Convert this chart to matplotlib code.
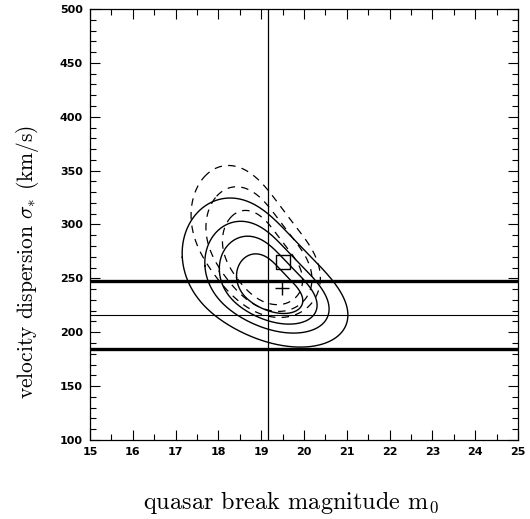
import numpy as np
import matplotlib
matplotlib.use("Agg")
import matplotlib.pyplot as plt
from matplotlib.ticker import MultipleLocator

# --- data ---
# outermost solid contour, points read clockwise from the picture
solid_outer_x = [17.22, 17.30, 17.49, 17.76, 18.23, 18.66, 19.13, 19.44, 20.00, 20.56,
                 21.00, 21.11, 21.00, 20.56, 20.14, 19.21, 18.66, 18.04, 17.57, 17.26]
solid_outer_y = [270.0, 291.8, 310.0, 321.0, 325.8, 321.0, 310.4, 302.6, 276.0, 248.0,
                 228.0, 214.0, 200.0, 192.0, 189.0, 190.0, 199.0, 211.4, 226.9, 245.4]
# nested solid contours: relative size w.r.t. the outer one and common peak
solid_levels = [1.0, 0.75, 0.59, 0.40]
solid_peak = (19.27, 238.2)

# outermost dashed contour, points read clockwise from the picture
dashed_outer_x = [17.64, 18.00, 18.43, 18.86, 19.20, 19.52, 19.81, 20.08, 20.31, 20.42,
                  20.20, 19.56, 18.80, 18.20, 17.76, 17.41, 17.40, 17.45]
dashed_outer_y = [343.0, 355.0, 355.0, 343.0, 330.0, 313.5, 298.0, 282.4, 265.5, 250.0,
                  228.0, 214.0, 222.0, 238.0, 262.0, 287.0, 305.7, 324.0]
dashed_levels = [1.0, 0.82, 0.62]
dashed_peak = (19.29, 245.0)

vline_x = [19.15]
thick_hlines = [248.0, 184.5]
thin_hlines = [216.0]
square_pt = (19.50, 265.0)
plus_pt = (19.48, 241.0)

xlim = (15, 25)
ylim = (100, 500)

plt.rcParams['mathtext.fontset'] = 'cm'
plt.rcParams['axes.unicode_minus'] = False

fig = plt.figure(figsize=(5.30, 5.19), dpi=100)
ax = fig.add_axes([90/530, 1-440/519, 428/530, 431/519])


def smooth_closed(xs, ys, nharm=3, n=600):
    """Smooth closed curve through read points (low-order Fourier least squares)."""
    xs = np.asarray(xs, float); ys = np.asarray(ys, float)
    xd = np.append(xs, xs[0]); yd = np.append(ys, ys[0])
    # chord length in display-like units (x: 1 unit ~ 43 px, y: 1 unit ~ 1.08 px)
    seg = np.hypot(np.diff(xd)*42.8, np.diff(yd)*1.0775)
    s = 2*np.pi*np.concatenate([[0], np.cumsum(seg)])[:-1]/seg.sum()
    def design(u):
        cols = [np.ones_like(u)]
        for h in range(1, nharm+1):
            cols += [np.cos(h*u), np.sin(h*u)]
        return np.column_stack(cols)
    G = design(s)
    cx = np.linalg.lstsq(G, xs, rcond=None)[0]
    cy = np.linalg.lstsq(G, ys, rcond=None)[0]
    u = np.linspace(0, 2*np.pi, n)
    Gu = design(u)
    return Gu @ cx, Gu @ cy


def draw_family(xs, ys, levels, peak, **kw):
    bx, by = smooth_closed(xs, ys)
    for f in levels:
        ax.plot(peak[0] + f*(bx - peak[0]), peak[1] + f*(by - peak[1]),
                color='black', **kw)


draw_family(solid_outer_x, solid_outer_y, solid_levels, solid_peak, lw=1.0)
draw_family(dashed_outer_x, dashed_outer_y, dashed_levels, dashed_peak, lw=0.9,
            linestyle=(0, (6, 5)))

for xv in vline_x:
    ax.axvline(xv, color='black', lw=0.9)
for yv in thick_hlines:
    ax.axhline(yv, color='black', lw=2.4)
for yv in thin_hlines:
    ax.axhline(yv, color='black', lw=0.8)

ax.plot([square_pt[0]], [square_pt[1]], marker='s', ms=9.5, mfc='none',
        mec='black', mew=1.0)
ax.plot([plus_pt[0]], [plus_pt[1]], marker='+', ms=10, color='black', mew=1.0)

ax.set_xlim(*xlim)
ax.set_ylim(*ylim)
ax.xaxis.set_major_locator(MultipleLocator(1))
ax.xaxis.set_minor_locator(MultipleLocator(0.5))
ax.yaxis.set_major_locator(MultipleLocator(50))
ax.yaxis.set_minor_locator(MultipleLocator(10))
ax.tick_params(which='both', direction='in', top=True, right=True, width=0.8)
ax.tick_params(which='major', length=7, labelsize=8, pad=5)
ax.tick_params(which='minor', length=4)
for lab in ax.get_xticklabels() + ax.get_yticklabels():
    lab.set_fontweight('bold')
for sp in ax.spines.values():
    sp.set_linewidth(0.9)

fig.text(28/530, 1-262/519, r'velocity dispersion $\sigma_{*}$ (km/s)',
         rotation=90, ha='center', va='center', fontsize=15.5, family='cmr10')
fig.text(291/530, 1-503/519, r'quasar break magnitude $\mathrm{m}_0$',
         ha='center', va='center', fontsize=17.5, family='cmr10')

fig.savefig('out.png', dpi=100)
